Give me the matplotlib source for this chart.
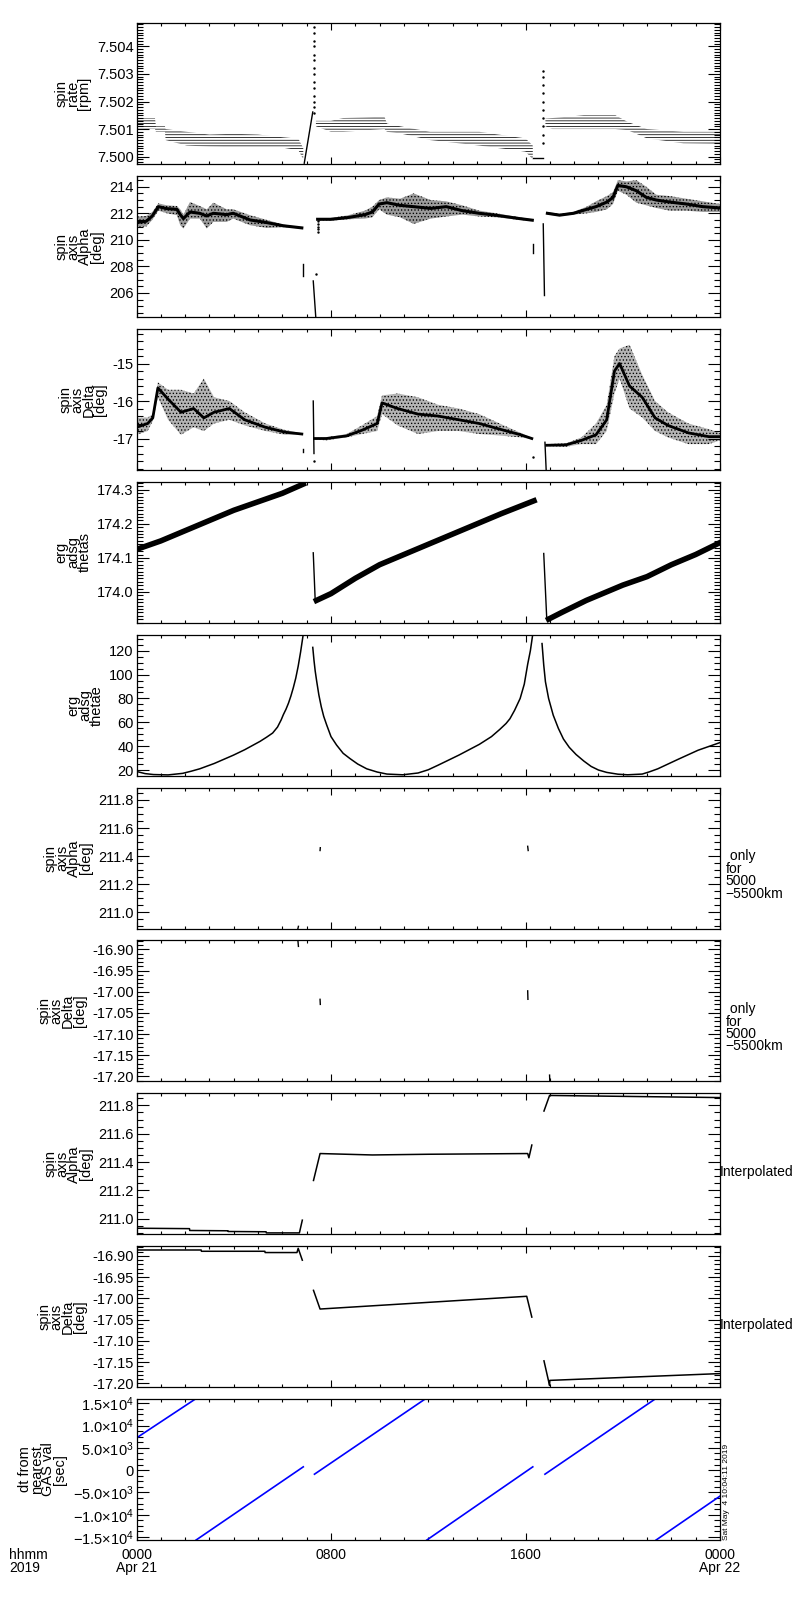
import matplotlib
matplotlib.use('Agg')
import matplotlib.pyplot as plt
from matplotlib.ticker import MultipleLocator, FixedLocator, FixedFormatter, FormatStrFormatter

plt.rcParams['font.family'] = ['Liberation Sans', 'DejaVu Sans']
plt.rcParams['axes.unicode_minus'] = True
plt.rcParams['hatch.linewidth'] = 0.55
plt.rcParams['mathtext.fontset'] = 'custom'
plt.rcParams['mathtext.rm'] = 'Liberation Sans'

# ---------------- data ----------------
hour_ticks = [0, 8, 16, 24]
hour_labels = ['0000\nApr 21', '0800', '1600', '0000\nApr 22']

ylabels = ['spin\nrate\n[rpm]', 'spin\naxis\nAlpha\n[deg]', 'spin\naxis\nDelta\n[deg]',
           'erg\nadsg\nthetas', 'erg\nadsg\nthetae', 'spin\naxis\nAlpha\n[deg]',
           'spin\naxis\nDelta\n[deg]', 'spin\naxis\nAlpha\n[deg]', 'spin\naxis\nDelta\n[deg]',
           'dt from\nnearest\nGAS val\n[sec]']
right_notes = ['', '', '', '', '', ' only\nfor\n5000\n\u22125500km', ' only\nfor\n5000\n\u22125500km',
               'Interpolated', 'Interpolated', '']
stamp = 'Sat May  4 10:04:11 2019'

# panel 1: spin rate [rpm] (band envelopes)
p1_t1 = [0, 0.76, 0.8, 1.17, 1.2, 2.07, 3.0, 4.0, 5.0, 6.04, 6.66, 6.86]
p1_lo1 = [7.5010, 7.5010, 7.5009, 7.5009, 7.5006, 7.5004, 7.50036, 7.50034, 7.50033, 7.50032, 7.50023, 7.4999]
p1_hi1 = [7.5014, 7.5014, 7.5011, 7.5011, 7.5010, 7.5009, 7.5008, 7.50083, 7.5008, 7.5007, 7.50065, 7.5003]
p1_t2 = [7.38, 8.0, 8.5, 10.2, 10.3, 10.85, 12.08, 14.1, 16.0, 16.3]
p1_lo2 = [7.5011, 7.5009, 7.5009, 7.5010, 7.5009, 7.50084, 7.5006, 7.5004, 7.50018, 7.4999]
p1_hi2 = [7.5013, 7.5013, 7.5014, 7.50145, 7.5012, 7.5011, 7.5009, 7.5009, 7.50066, 7.5004]
p1_t3 = [16.82, 17.1, 18.4, 19.7, 20.2, 21.0, 22.5, 24.0]
p1_lo3 = [7.5011, 7.5010, 7.5010, 7.5010, 7.50096, 7.50066, 7.50048, 7.50046]
p1_hi3 = [7.50138, 7.5014, 7.5015, 7.5015, 7.50126, 7.5010, 7.5009, 7.5009]
p1_ramp_t = [6.90, 7.25]
p1_ramp_v = [7.49976, 7.50162]
p1_flat_t = [16.3, 16.72]
p1_flat_v = [7.49994, 7.49994]
p1_spk1_t = [7.32] * 14
p1_spk1_v = [7.5016, 7.5018, 7.5020, 7.5022, 7.5025, 7.5027, 7.5030, 7.5032,
             7.5035, 7.5037, 7.5040, 7.5042, 7.5045, 7.5047]
p1_spk2_t = [16.74] * 10
p1_spk2_v = [7.5005, 7.5008, 7.5011, 7.5014, 7.5017, 7.5020, 7.5023, 7.5026, 7.5029, 7.5031]

# panel 2: spin axis Alpha [deg]
p2_t1 = [0, 0.4, 0.65, 0.9, 1.25, 1.66, 1.8, 1.93, 2.2, 2.6, 2.89, 3.16, 3.71, 3.98, 4.67, 5.36, 6.04, 6.8]
p2_lo1 = [210.98, 211.0, 211.5, 212.2, 212.0, 211.86, 211.1, 210.85, 211.6, 211.6, 210.85, 211.35, 211.35, 211.6, 211.1, 210.9, 210.95, 210.85]
p2_hi1 = [211.75, 211.8, 212.1, 212.75, 212.6, 212.55, 212.3, 211.9, 212.85, 212.55, 212.3, 212.8, 212.3, 212.3, 211.86, 211.5, 211.15, 210.95]
p2_c1 = [211.3, 211.4, 211.8, 212.5, 212.35, 212.3, 211.9, 211.6, 212.1, 212.0, 211.8, 212.0, 211.9, 212.0, 211.5, 211.3, 211.06, 210.9]
p2_t2 = [7.45, 8.0, 8.7, 9.4, 9.7, 9.98, 10.3, 10.84, 11.4, 12.1, 12.74, 13.4, 14.1, 14.8, 15.76, 16.28]
p2_lo2 = [211.45, 211.45, 211.55, 211.6, 211.7, 212.3, 211.9, 211.7, 211.2, 211.6, 211.76, 211.9, 211.76, 211.7, 211.5, 211.42]
p2_hi2 = [211.6, 211.65, 211.85, 212.2, 212.5, 213.0, 213.2, 213.1, 213.5, 213.0, 212.9, 212.6, 212.2, 212.0, 211.7, 211.55]
p2_c2 = [211.55, 211.55, 211.68, 211.9, 212.1, 212.7, 212.8, 212.6, 212.5, 212.37, 212.5, 212.2, 212.0, 211.85, 211.6, 211.48]
p2_t3 = [16.9, 17.4, 17.97, 18.52, 18.9, 19.35, 19.6, 19.8, 20.15, 20.56, 20.97, 21.38, 21.93, 22.61, 23.3, 24.0]
p2_lo3 = [211.9, 211.8, 211.9, 212.0, 212.1, 212.3, 212.7, 213.7, 213.4, 212.8, 212.6, 212.4, 212.2, 212.2, 212.1, 212.1]
p2_hi3 = [212.1, 211.95, 212.1, 212.5, 212.9, 213.3, 213.6, 214.5, 214.4, 214.5, 214.0, 213.4, 213.3, 213.1, 212.9, 212.7]
p2_c3 = [212.0, 211.86, 212.0, 212.3, 212.5, 212.85, 213.2, 214.1, 214.0, 213.7, 213.2, 213.0, 212.85, 212.7, 212.5, 212.4]
p2_segA_t = [6.84, 6.84]
p2_segA_v = [207.3, 208.2]
p2_segB_t = [7.27, 7.38]
p2_segB_v = [206.9, 204.0]
p2_segC_t = [16.3, 16.3]
p2_segC_v = [209.0, 209.7]
p2_segD_t = [16.73, 16.78]
p2_segD_v = [211.2, 205.8]
p2_dots_t = [7.45, 7.45, 7.45, 7.45, 7.45, 7.4]
p2_dots_v = [211.4, 211.2, 211.0, 210.8, 210.6, 207.4]

# panel 3: spin axis Delta [deg]
p3_t1 = [0, 0.46, 0.67, 0.88, 1.3, 1.83, 2.35, 2.77, 3.19, 3.82, 4.45, 5.3, 6.1, 6.8]
p3_lo1 = [-16.9, -16.8, -16.53, -15.9, -16.5, -16.9, -16.7, -16.8, -16.6, -16.5, -16.65, -16.8, -16.9, -16.9]
p3_hi1 = [-16.45, -16.44, -16.35, -15.5, -15.7, -15.7, -15.8, -15.4, -15.9, -16.0, -16.3, -16.6, -16.77, -16.86]
p3_c1 = [-16.7, -16.6, -16.45, -15.65, -15.95, -16.3, -16.2, -16.45, -16.3, -16.2, -16.5, -16.7, -16.83, -16.88]
p3_t2 = [7.32, 7.8, 8.64, 9.27, 9.9, 10.1, 10.74, 11.58, 12.4, 13.26, 14.1, 14.94, 15.8, 16.26]
p3_lo2 = [-17.02, -17.05, -16.97, -16.88, -16.8, -16.35, -16.65, -16.88, -16.8, -16.8, -16.88, -16.92, -16.97, -17.02]
p3_hi2 = [-16.98, -16.97, -16.88, -16.65, -16.4, -15.85, -15.8, -15.9, -16.1, -16.2, -16.35, -16.6, -16.85, -16.98]
p3_c2 = [-17.0, -17.0, -16.93, -16.78, -16.6, -16.05, -16.2, -16.35, -16.4, -16.5, -16.6, -16.75, -16.9, -17.0]
p3_t3 = [16.87, 17.66, 18.3, 18.9, 19.34, 19.66, 19.87, 20.28, 20.8, 21.33, 21.86, 22.7, 23.54, 24.0]
p3_lo3 = [-17.2, -17.22, -17.15, -17.15, -16.8, -15.8, -15.4, -16.2, -16.44, -16.8, -16.97, -17.15, -17.15, -17.05]
p3_hi3 = [-17.15, -17.13, -16.97, -16.6, -16.1, -14.8, -14.6, -14.5, -15.3, -16.0, -16.3, -16.6, -16.75, -16.85]
p3_c3 = [-17.18, -17.17, -17.05, -16.9, -16.5, -15.2, -15.0, -15.6, -15.9, -16.45, -16.65, -16.85, -16.95, -16.95]
p3_segA_t = [6.85, 6.85]
p3_segA_v = [-17.27, -17.36]
p3_segB_t = [7.27, 7.30]
p3_segB_v = [-16.0, -17.4]
p3_segC_t = [16.8, 16.85]
p3_segC_v = [-17.1, -17.84]
p3_dots_t = [7.3, 16.3]
p3_dots_v = [-17.6, -17.5]

# panel 4: erg adsg thetas
p4_t1 = [0, 1, 2, 3, 4, 5, 6, 6.86]
p4_v1 = [174.125, 174.15, 174.18, 174.21, 174.24, 174.265, 174.29, 174.317]
p4_t2 = [7.27, 7.35, 7.4, 8, 9, 10, 11, 12, 13, 14, 15, 16.35]
p4_v2 = [174.115, 173.975, 173.975, 173.995, 174.04, 174.08, 174.11, 174.14, 174.17, 174.2, 174.23, 174.268]
p4_t3 = [16.75, 16.87, 16.95, 17.5, 18.5, 20, 21, 22, 23, 24]
p4_v3 = [174.113, 173.927, 173.92, 173.94, 173.975, 174.02, 174.045, 174.08, 174.11, 174.145]

# panel 5: erg adsg thetae
p5_t1 = [0, 0.35, 0.7, 1.3, 1.9, 2.25, 2.6, 3.2, 3.98, 4.45, 5.08, 5.35, 5.6, 5.8, 5.95, 6.04,
         6.15, 6.25, 6.35, 6.45, 6.55, 6.65, 6.75, 6.86]
p5_v1 = [18.8, 17.0, 16.2, 15.9, 17.2, 19.0, 21.0, 25.5, 32.4, 37.0, 44.0, 47.5, 51, 56, 62, 66.4,
         71, 76, 82, 89, 97, 107, 119, 134]
p5_t2 = [7.25, 7.3, 7.35, 7.41, 7.5, 7.6, 7.7, 7.82, 8.0, 8.23, 8.5, 8.78, 9.1, 9.47, 9.9, 10.3,
         10.95, 11.58, 12.0, 12.4, 13.26, 14.1, 14.6, 14.94, 15.2, 15.36, 15.55, 15.78, 15.95, 16.09,
         16.2, 16.3]
p5_v2 = [122.8, 112, 103, 94.6, 83, 73, 65, 57.9, 48, 40.9, 34, 29.6, 25, 21.0, 18.3, 16.6,
         16.0, 17.5, 20.2, 24, 32.5, 41.5, 48, 54, 59, 63, 70, 80, 92, 108.7,
         120, 134]
p5_t3 = [16.68, 16.75, 16.82, 16.95, 17.14, 17.35, 17.56, 17.8, 18.08, 18.4, 18.7, 19.0, 19.34,
         19.8, 20.2, 20.8, 21.1, 21.44, 22.28, 23.1, 24]
p5_v3 = [126, 108, 94, 80, 66, 55, 46, 39, 33, 27.5, 23, 20, 18,
         16.5, 16, 16.6, 18.5, 21, 29, 36.6, 43]

# panel 6 / 7: only for 5000-5500 km (short marks)
p6_marks_t = [[6.64, 6.66], [7.55, 7.56], [16.09, 16.11], [16.99, 17.0]]
p6_marks_v = [[210.885, 210.9], [211.44, 211.46], [211.47, 211.44], [211.875, 211.86]]
p7_marks_t = [[6.64, 6.66], [7.55, 7.56], [16.09, 16.1], [16.99, 17.0]]
p7_marks_v = [[-16.88, -16.893], [-17.018, -17.03], [-16.998, -17.018], [-17.197, -17.212]]

# panel 8: interpolated Alpha
p8_t1 = [0, 2.18, 2.19, 3.76, 3.77, 5.33, 5.34, 6.7, 6.82]
p8_v1 = [210.933, 210.93, 210.917, 210.915, 210.91, 210.908, 210.9, 210.9, 210.99]
p8_t2 = [7.28, 7.55, 9.7, 12.0, 16.09, 16.14, 16.26]
p8_v2 = [211.27, 211.46, 211.45, 211.455, 211.46, 211.43, 211.52]
p8_t3 = [16.76, 16.99, 24.0]
p8_v3 = [211.76, 211.87, 211.855]

# panel 9: interpolated Delta
p9_t1 = [0, 2.66, 2.67, 5.28, 5.29, 6.6, 6.65, 6.82]
p9_v1 = [-16.886, -16.886, -16.889, -16.889, -16.892, -16.892, -16.882, -16.91]
p9_t2 = [7.28, 7.55, 16.05, 16.26]
p9_v2 = [-16.981, -17.025, -16.995, -17.044]
p9_t3 = [16.76, 16.99, 17.0, 24.0]
p9_v3 = [-17.147, -17.205, -17.193, -17.177]

# panel 10: dt from nearest GAS val [sec]
p10_seg_t = [[0, 2.42], [2.45, 6.86], [7.32, 11.87], [11.94, 16.3], [16.8, 21.33], [21.37, 24.0]]
p10_seg_v = [[7240, 15970], [-15680, 750], [-900, 15970], [-15680, 750], [-900, 15970], [-15680, -5820]]
p10_ticks = [-15000, -10000, -5000, 0, 5000, 10000, 15000]
p10_labels = [r'$\mathregular{-1.5{\times}10^{4}}$', r'$\mathregular{-1.0{\times}10^{4}}$',
              r'$\mathregular{-5.0{\times}10^{3}}$', '0',
              r'$\mathregular{5.0{\times}10^{3}}$', r'$\mathregular{1.0{\times}10^{4}}$',
              r'$\mathregular{1.5{\times}10^{4}}$']

# axis settings
ylims = [(7.49972, 7.50484), (204.17, 214.8), (-17.84, -14.08), (173.909, 174.3235), (15.2, 133.4),
         (210.884, 211.888), (-17.212, -16.879), (210.89, 211.885), (-17.209, -16.877), (-15680, 15970)]
ymajor = [0.001, 2, 1, 0.1, 20, 0.2, 0.05, 0.2, 0.05, 5000]
yminor = [0.0001, 0.5, 0.2, 0.01, 5, 0.05, 0.01, 0.05, 0.01, 1250]
yfmt = ['%.3f', '%d', '%d', '%.1f', '%d', '%.1f', '%.2f', '%.1f', '%.2f', None]

# ---------------- figure ----------------
W, H = 800, 1600
fig = plt.figure(figsize=(8, 16), dpi=100)
left_px, right_px = 136.5, 720.0
top0, pitch, ph = 23.3, 152.86, 141.0
axes = []
for i in range(10):
    top = top0 + pitch * i
    ax = fig.add_axes([left_px / W, 1 - (top + ph) / H, (right_px - left_px) / W, ph / H])
    axes.append(ax)

narrow = ['Liberation Sans Narrow', 'Liberation Sans', 'DejaVu Sans']
for i, ax in enumerate(axes):
    ax.set_xlim(0, 24)
    ax.set_ylim(*ylims[i])
    ax.xaxis.set_major_locator(FixedLocator(hour_ticks))
    ax.xaxis.set_minor_locator(MultipleLocator(1))
    if i == 9:
        ax.set_xticklabels(hour_labels)
        ax.yaxis.set_major_locator(FixedLocator(p10_ticks))
        ax.yaxis.set_major_formatter(FixedFormatter(p10_labels))
    else:
        ax.set_xticklabels([])
        ax.yaxis.set_major_locator(MultipleLocator(ymajor[i]))
        ax.yaxis.set_major_formatter(FormatStrFormatter(yfmt[i]))
    ax.yaxis.set_minor_locator(MultipleLocator(yminor[i]))
    ax.tick_params(axis='x', which='both', direction='in', top=True, bottom=True,
                   labelsize=10, pad=6, width=0.8)
    ax.tick_params(axis='x', which='major', length=5)
    ax.tick_params(axis='x', which='minor', length=2.5)
    ax.tick_params(axis='y', which='both', direction='in', left=True, right=True,
                   labelsize=10.5, pad=2, width=0.8)
    ax.tick_params(axis='y', which='major', length=8.6)
    ax.tick_params(axis='y', which='minor', length=4.3)
    for s in ax.spines.values():
        s.set_linewidth(0.9)
    ax.set_ylabel(ylabels[i], fontsize=10.5, linespacing=0.78, labelpad=4,
                  multialignment='center')
    if right_notes[i]:
        if right_notes[i] == 'Interpolated':
            ax.text(1.0, 0.44, right_notes[i], transform=ax.transAxes, ha='left', va='center',
                    fontsize=10, family=narrow)
        else:
            ax.text(1.01, 0.38, right_notes[i], transform=ax.transAxes, ha='left', va='center',
                    fontsize=10, linespacing=0.85, family=narrow)

for lbl in axes[9].get_xticklabels():
    lbl.set_linespacing(0.9)

# panel 1
ax = axes[0]
for t, lo, hi in [(p1_t1, p1_lo1, p1_hi1), (p1_t2, p1_lo2, p1_hi2), (p1_t3, p1_lo3, p1_hi3)]:
    ax.fill_between(t, lo, hi, facecolor='none', edgecolor='black', hatch='------', linewidth=0)
ax.plot(p1_ramp_t, p1_ramp_v, color='black', lw=1.0)
ax.plot(p1_flat_t, p1_flat_v, color='black', lw=1.0)
ax.plot(p1_spk1_t, p1_spk1_v, 'k.', ms=1.5)
ax.plot(p1_spk2_t, p1_spk2_v, 'k.', ms=1.5)

# panel 2
ax = axes[1]
for t, lo, hi, c in [(p2_t1, p2_lo1, p2_hi1, p2_c1), (p2_t2, p2_lo2, p2_hi2, p2_c2),
                     (p2_t3, p2_lo3, p2_hi3, p2_c3)]:
    ax.fill_between(t, lo, hi, facecolor='#9c9c9c', edgecolor='black', hatch='.....', linewidth=0)
    ax.plot(t, c, color='black', lw=2.2)
for t, v in [(p2_segA_t, p2_segA_v), (p2_segB_t, p2_segB_v), (p2_segC_t, p2_segC_v), (p2_segD_t, p2_segD_v)]:
    ax.plot(t, v, color='black', lw=1.0)
ax.plot(p2_dots_t, p2_dots_v, 'k.', ms=1.5)

# panel 3
ax = axes[2]
for t, lo, hi, c in [(p3_t1, p3_lo1, p3_hi1, p3_c1), (p3_t2, p3_lo2, p3_hi2, p3_c2),
                     (p3_t3, p3_lo3, p3_hi3, p3_c3)]:
    ax.fill_between(t, lo, hi, facecolor='#b4b4b4', edgecolor='black', hatch='.....', linewidth=0)
    ax.plot(t, c, color='black', lw=2.0)
for t, v in [(p3_segA_t, p3_segA_v), (p3_segB_t, p3_segB_v), (p3_segC_t, p3_segC_v)]:
    ax.plot(t, v, color='black', lw=1.0)
ax.plot(p3_dots_t, p3_dots_v, 'k.', ms=1.5)

# panel 4
ax = axes[3]
for t, v in [(p4_t1, p4_v1), (p4_t2, p4_v2), (p4_t3, p4_v3)]:
    ax.plot(t, v, color='black', lw=1.0)
ax.plot(p4_t1, p4_v1, color='black', lw=4.0)
ax.plot(p4_t2[2:], p4_v2[2:], color='black', lw=4.0)
ax.plot(p4_t3[2:], p4_v3[2:], color='black', lw=4.0)

# panel 5
ax = axes[4]
for t, v in [(p5_t1, p5_v1), (p5_t2, p5_v2), (p5_t3, p5_v3)]:
    ax.plot(t, v, color='black', lw=1.1)

# panels 6, 7
for t, v in zip(p6_marks_t, p6_marks_v):
    axes[5].plot(t, v, color='black', lw=1.0)
for t, v in zip(p7_marks_t, p7_marks_v):
    axes[6].plot(t, v, color='black', lw=1.0)

# panel 8, 9
for t, v in [(p8_t1, p8_v1), (p8_t2, p8_v2), (p8_t3, p8_v3)]:
    axes[7].plot(t, v, color='black', lw=1.1)
for t, v in [(p9_t1, p9_v1), (p9_t2, p9_v2), (p9_t3, p9_v3)]:
    axes[8].plot(t, v, color='black', lw=1.1)

# panel 10
for t, v in zip(p10_seg_t, p10_seg_v):
    axes[9].plot(t, v, color='#0000ff', lw=1.2)

axes[9].text(1.005, 0.0, stamp, transform=axes[9].transAxes, rotation=90, ha='left', va='bottom',
             fontsize=6, family=narrow)
fig.text(9 / W, 1 - 1548 / H, 'hhmm\n2019', ha='left', va='top', fontsize=10, linespacing=0.9)

fig.savefig('out.png', dpi=100)
